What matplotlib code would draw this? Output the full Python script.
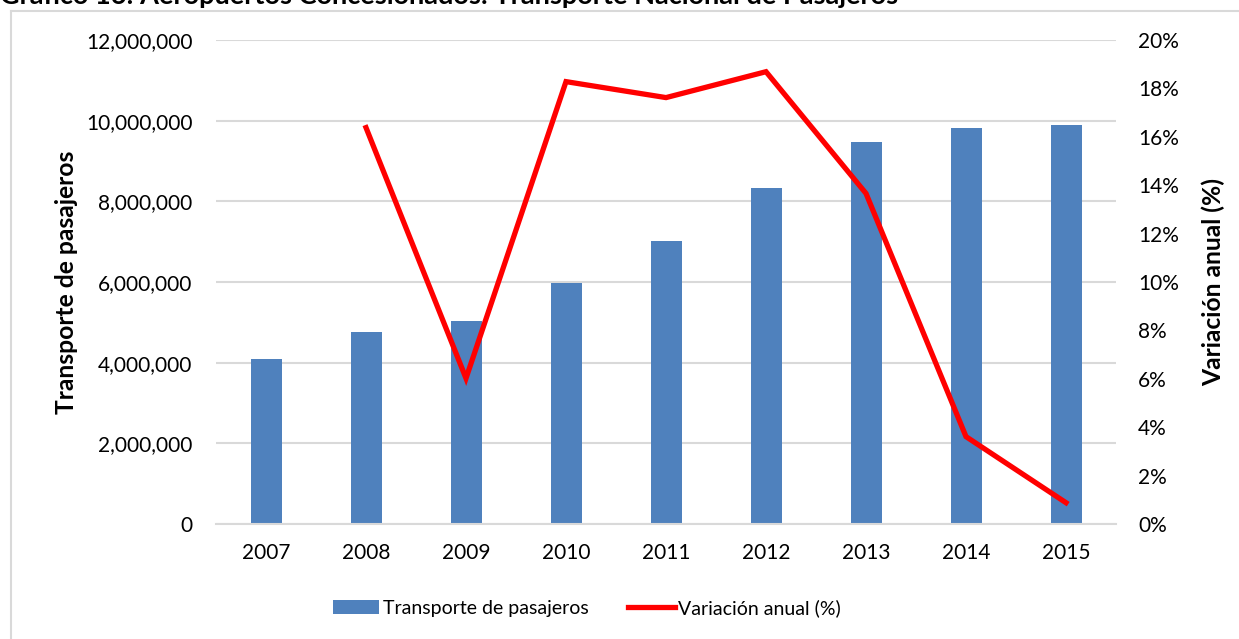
import matplotlib
matplotlib.use("Agg")
import matplotlib.pyplot as plt
from matplotlib.ticker import FuncFormatter, MultipleLocator
from matplotlib.lines import Line2D
from matplotlib.patches import Patch

years = ["2007", "2008", "2009", "2010", "2011", "2012", "2013", "2014", "2015"]
pasajeros = [4080000, 4750000, 5040000, 5970000, 7010000, 8320000, 9460000, 9810000, 9890000]
var_years = ["2008", "2009", "2010", "2011", "2012", "2013", "2014", "2015"]
variacion = [16.38, 6.02, 18.28, 17.62, 18.69, 13.66, 3.61, 0.88]

title = "Gráfico 16: Aeropuertos Concesionados: Transporte Nacional de Pasajeros"
ylabel_left = "Transporte de pasajeros"
ylabel_right = "Variación anual (%)"

plt.rcParams['font.family'] = ['Lato', 'DejaVu Sans']

fig = plt.figure(figsize=(12.39, 6.39), dpi=100)
ax = fig.add_axes([216/1239, 1-524/639, 900/1239, 484/639])
ax2 = ax.twinx()

x = list(range(len(years)))
ax.bar(x, pasajeros, width=0.31, color="#4f81bd", zorder=2)
ax.set_xlim(-0.5, len(years) - 0.5)
ax.set_ylim(0, 12000000)
ax.yaxis.set_major_locator(MultipleLocator(2000000))
ax.yaxis.set_major_formatter(FuncFormatter(lambda v, p: f"{int(v):,}"))
ax.set_xticks(x)
ax.set_xticklabels(years)
ax.grid(axis='y', color="#d9d9d9", linewidth=1.5, zorder=0)
ax.set_axisbelow(True)
for s in ["top", "left", "right"]:
    ax.spines[s].set_visible(False)
ax.spines["bottom"].set_color("#d9d9d9")
ax.spines["bottom"].set_linewidth(1.5)
ax.tick_params(axis='both', length=0, labelsize=15, colors="black")
ax.tick_params(axis='y', pad=17)
ax.tick_params(axis='x', pad=14)
ax.set_ylabel(ylabel_left, fontsize=17.7, fontweight='bold', labelpad=6)

xv = [years.index(y) for y in var_years]
ax2.plot(xv, variacion, color="#ff0000", linewidth=3.8, solid_joinstyle='miter', zorder=3)
ax2.set_ylim(0, 20)
ax2.yaxis.set_major_locator(MultipleLocator(2))
ax2.yaxis.set_major_formatter(FuncFormatter(lambda v, p: f"{int(round(v))}%"))
for s in ["top", "left", "right", "bottom"]:
    ax2.spines[s].set_visible(False)
ax2.tick_params(axis='y', length=0, labelsize=15, pad=16)
ax2.set_ylabel(ylabel_right, fontsize=17.7, fontweight='bold', labelpad=16)

handles = [Patch(facecolor="#4f81bd", edgecolor="none"),
           Line2D([0], [0], color="#ff0000", linewidth=3.8)]
fig.legend(handles, [ylabel_left, ylabel_right], loc='center',
           bbox_to_anchor=(587/1239, 1-608/639), ncol=2, frameon=False,
           fontsize=14, handlelength=2.4, handletextpad=0.2, columnspacing=2.0)

# chart border (left & top edges visible)
fig.add_artist(Line2D([11/1239, 11/1239], [0, 1-11/639], transform=fig.transFigure,
                      color="#d9d9d9", linewidth=1.5))
fig.add_artist(Line2D([11/1239, 1], [1-11/639, 1-11/639], transform=fig.transFigure,
                      color="#d9d9d9", linewidth=1.5))

fig.text(0.0, 1.006, title, fontsize=19.5, fontweight='bold', ha='left', va='center')

fig.savefig("out.png", dpi=100)
